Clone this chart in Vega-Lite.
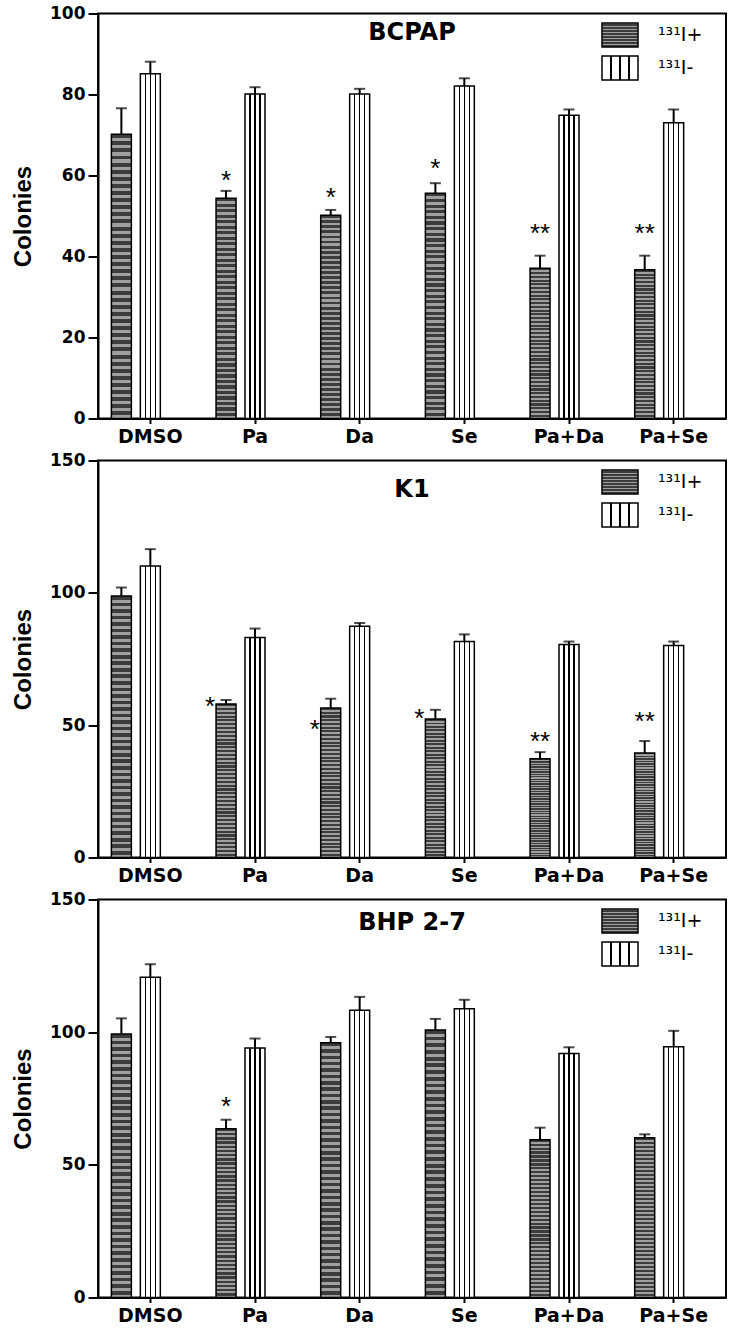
{
  "$schema": "https://vega.github.io/schema/vega-lite/v6.json",
  "padding": {"left": 10, "top": 3.5, "right": 5, "bottom": 5},
  "background": "white",
  "bounds": "flush",
  "spacing": 42,
  "params": [
    {"name": "gdark", "value": {"gradient": "linear", "x1": 0, "y1": 0, "x2": 0, "y2": 1, "stops": [
      {"offset": 0, "color": "#3c3c3c"}, {"offset": 0.014, "color": "#3c3c3c"}, {"offset": 0.014, "color": "#a0a0a0"}, {"offset": 0.025, "color": "#a0a0a0"},
      {"offset": 0.025, "color": "#3c3c3c"}, {"offset": 0.039, "color": "#3c3c3c"}, {"offset": 0.039, "color": "#a0a0a0"}, {"offset": 0.05, "color": "#a0a0a0"},
      {"offset": 0.05, "color": "#3c3c3c"}, {"offset": 0.064, "color": "#3c3c3c"}, {"offset": 0.064, "color": "#a0a0a0"}, {"offset": 0.075, "color": "#a0a0a0"},
      {"offset": 0.075, "color": "#3c3c3c"}, {"offset": 0.089, "color": "#3c3c3c"}, {"offset": 0.089, "color": "#a0a0a0"}, {"offset": 0.1, "color": "#a0a0a0"},
      {"offset": 0.1, "color": "#3c3c3c"}, {"offset": 0.114, "color": "#3c3c3c"}, {"offset": 0.114, "color": "#a0a0a0"}, {"offset": 0.125, "color": "#a0a0a0"},
      {"offset": 0.125, "color": "#3c3c3c"}, {"offset": 0.139, "color": "#3c3c3c"}, {"offset": 0.139, "color": "#a0a0a0"}, {"offset": 0.15, "color": "#a0a0a0"},
      {"offset": 0.15, "color": "#3c3c3c"}, {"offset": 0.164, "color": "#3c3c3c"}, {"offset": 0.164, "color": "#a0a0a0"}, {"offset": 0.175, "color": "#a0a0a0"},
      {"offset": 0.175, "color": "#3c3c3c"}, {"offset": 0.189, "color": "#3c3c3c"}, {"offset": 0.189, "color": "#a0a0a0"}, {"offset": 0.2, "color": "#a0a0a0"},
      {"offset": 0.2, "color": "#3c3c3c"}, {"offset": 0.214, "color": "#3c3c3c"}, {"offset": 0.214, "color": "#a0a0a0"}, {"offset": 0.225, "color": "#a0a0a0"},
      {"offset": 0.225, "color": "#3c3c3c"}, {"offset": 0.239, "color": "#3c3c3c"}, {"offset": 0.239, "color": "#a0a0a0"}, {"offset": 0.25, "color": "#a0a0a0"},
      {"offset": 0.25, "color": "#3c3c3c"}, {"offset": 0.264, "color": "#3c3c3c"}, {"offset": 0.264, "color": "#a0a0a0"}, {"offset": 0.275, "color": "#a0a0a0"},
      {"offset": 0.275, "color": "#3c3c3c"}, {"offset": 0.289, "color": "#3c3c3c"}, {"offset": 0.289, "color": "#a0a0a0"}, {"offset": 0.3, "color": "#a0a0a0"},
      {"offset": 0.3, "color": "#3c3c3c"}, {"offset": 0.314, "color": "#3c3c3c"}, {"offset": 0.314, "color": "#a0a0a0"}, {"offset": 0.325, "color": "#a0a0a0"},
      {"offset": 0.325, "color": "#3c3c3c"}, {"offset": 0.339, "color": "#3c3c3c"}, {"offset": 0.339, "color": "#a0a0a0"}, {"offset": 0.35, "color": "#a0a0a0"},
      {"offset": 0.35, "color": "#3c3c3c"}, {"offset": 0.364, "color": "#3c3c3c"}, {"offset": 0.364, "color": "#a0a0a0"}, {"offset": 0.375, "color": "#a0a0a0"},
      {"offset": 0.375, "color": "#3c3c3c"}, {"offset": 0.389, "color": "#3c3c3c"}, {"offset": 0.389, "color": "#a0a0a0"}, {"offset": 0.4, "color": "#a0a0a0"},
      {"offset": 0.4, "color": "#3c3c3c"}, {"offset": 0.414, "color": "#3c3c3c"}, {"offset": 0.414, "color": "#a0a0a0"}, {"offset": 0.425, "color": "#a0a0a0"},
      {"offset": 0.425, "color": "#3c3c3c"}, {"offset": 0.439, "color": "#3c3c3c"}, {"offset": 0.439, "color": "#a0a0a0"}, {"offset": 0.45, "color": "#a0a0a0"},
      {"offset": 0.45, "color": "#3c3c3c"}, {"offset": 0.464, "color": "#3c3c3c"}, {"offset": 0.464, "color": "#a0a0a0"}, {"offset": 0.475, "color": "#a0a0a0"},
      {"offset": 0.475, "color": "#3c3c3c"}, {"offset": 0.489, "color": "#3c3c3c"}, {"offset": 0.489, "color": "#a0a0a0"}, {"offset": 0.5, "color": "#a0a0a0"},
      {"offset": 0.5, "color": "#3c3c3c"}, {"offset": 0.514, "color": "#3c3c3c"}, {"offset": 0.514, "color": "#a0a0a0"}, {"offset": 0.525, "color": "#a0a0a0"},
      {"offset": 0.525, "color": "#3c3c3c"}, {"offset": 0.539, "color": "#3c3c3c"}, {"offset": 0.539, "color": "#a0a0a0"}, {"offset": 0.55, "color": "#a0a0a0"},
      {"offset": 0.55, "color": "#3c3c3c"}, {"offset": 0.564, "color": "#3c3c3c"}, {"offset": 0.564, "color": "#a0a0a0"}, {"offset": 0.575, "color": "#a0a0a0"},
      {"offset": 0.575, "color": "#3c3c3c"}, {"offset": 0.589, "color": "#3c3c3c"}, {"offset": 0.589, "color": "#a0a0a0"}, {"offset": 0.6, "color": "#a0a0a0"},
      {"offset": 0.6, "color": "#3c3c3c"}, {"offset": 0.614, "color": "#3c3c3c"}, {"offset": 0.614, "color": "#a0a0a0"}, {"offset": 0.625, "color": "#a0a0a0"},
      {"offset": 0.625, "color": "#3c3c3c"}, {"offset": 0.639, "color": "#3c3c3c"}, {"offset": 0.639, "color": "#a0a0a0"}, {"offset": 0.65, "color": "#a0a0a0"},
      {"offset": 0.65, "color": "#3c3c3c"}, {"offset": 0.664, "color": "#3c3c3c"}, {"offset": 0.664, "color": "#a0a0a0"}, {"offset": 0.675, "color": "#a0a0a0"},
      {"offset": 0.675, "color": "#3c3c3c"}, {"offset": 0.689, "color": "#3c3c3c"}, {"offset": 0.689, "color": "#a0a0a0"}, {"offset": 0.7, "color": "#a0a0a0"},
      {"offset": 0.7, "color": "#3c3c3c"}, {"offset": 0.714, "color": "#3c3c3c"}, {"offset": 0.714, "color": "#a0a0a0"}, {"offset": 0.725, "color": "#a0a0a0"},
      {"offset": 0.725, "color": "#3c3c3c"}, {"offset": 0.739, "color": "#3c3c3c"}, {"offset": 0.739, "color": "#a0a0a0"}, {"offset": 0.75, "color": "#a0a0a0"},
      {"offset": 0.75, "color": "#3c3c3c"}, {"offset": 0.764, "color": "#3c3c3c"}, {"offset": 0.764, "color": "#a0a0a0"}, {"offset": 0.775, "color": "#a0a0a0"},
      {"offset": 0.775, "color": "#3c3c3c"}, {"offset": 0.789, "color": "#3c3c3c"}, {"offset": 0.789, "color": "#a0a0a0"}, {"offset": 0.8, "color": "#a0a0a0"},
      {"offset": 0.8, "color": "#3c3c3c"}, {"offset": 0.814, "color": "#3c3c3c"}, {"offset": 0.814, "color": "#a0a0a0"}, {"offset": 0.825, "color": "#a0a0a0"},
      {"offset": 0.825, "color": "#3c3c3c"}, {"offset": 0.839, "color": "#3c3c3c"}, {"offset": 0.839, "color": "#a0a0a0"}, {"offset": 0.85, "color": "#a0a0a0"},
      {"offset": 0.85, "color": "#3c3c3c"}, {"offset": 0.864, "color": "#3c3c3c"}, {"offset": 0.864, "color": "#a0a0a0"}, {"offset": 0.875, "color": "#a0a0a0"},
      {"offset": 0.875, "color": "#3c3c3c"}, {"offset": 0.889, "color": "#3c3c3c"}, {"offset": 0.889, "color": "#a0a0a0"}, {"offset": 0.9, "color": "#a0a0a0"},
      {"offset": 0.9, "color": "#3c3c3c"}, {"offset": 0.914, "color": "#3c3c3c"}, {"offset": 0.914, "color": "#a0a0a0"}, {"offset": 0.925, "color": "#a0a0a0"},
      {"offset": 0.925, "color": "#3c3c3c"}, {"offset": 0.939, "color": "#3c3c3c"}, {"offset": 0.939, "color": "#a0a0a0"}, {"offset": 0.95, "color": "#a0a0a0"},
      {"offset": 0.95, "color": "#3c3c3c"}, {"offset": 0.964, "color": "#3c3c3c"}, {"offset": 0.964, "color": "#a0a0a0"}, {"offset": 0.975, "color": "#a0a0a0"},
      {"offset": 0.975, "color": "#3c3c3c"}, {"offset": 0.989, "color": "#3c3c3c"}, {"offset": 0.989, "color": "#a0a0a0"}, {"offset": 1, "color": "#a0a0a0"}
    ]}},
    {"name": "glight", "value": {"gradient": "linear", "x1": 0, "y1": 0, "x2": 1, "y2": 0, "stops": [
      {"offset": 0, "color": "#ffffff"}, {"offset": 0.215, "color": "#ffffff"}, {"offset": 0.215, "color": "#000000"}, {"offset": 0.285, "color": "#000000"},
      {"offset": 0.285, "color": "#ffffff"}, {"offset": 0.465, "color": "#ffffff"}, {"offset": 0.465, "color": "#000000"}, {"offset": 0.535, "color": "#000000"},
      {"offset": 0.535, "color": "#ffffff"}, {"offset": 0.715, "color": "#ffffff"}, {"offset": 0.715, "color": "#000000"}, {"offset": 0.785, "color": "#000000"},
      {"offset": 0.785, "color": "#ffffff"}, {"offset": 1, "color": "#ffffff"}
    ]}}
  ],
  "datasets": {
    "bars": [
      {"panel": "BCPAP", "treatment": "DMSO", "group": "¹³¹I+", "value": 70.2, "hi": 76.6},
      {"panel": "BCPAP", "treatment": "DMSO", "group": "¹³¹I-", "value": 85.1, "hi": 88.1},
      {"panel": "BCPAP", "treatment": "Pa", "group": "¹³¹I+", "value": 54.4, "hi": 56.2},
      {"panel": "BCPAP", "treatment": "Pa", "group": "¹³¹I-", "value": 80.1, "hi": 81.8},
      {"panel": "BCPAP", "treatment": "Da", "group": "¹³¹I+", "value": 50.2, "hi": 51.5},
      {"panel": "BCPAP", "treatment": "Da", "group": "¹³¹I-", "value": 80.1, "hi": 81.4},
      {"panel": "BCPAP", "treatment": "Se", "group": "¹³¹I+", "value": 55.6, "hi": 58.1},
      {"panel": "BCPAP", "treatment": "Se", "group": "¹³¹I-", "value": 82.1, "hi": 84.0},
      {"panel": "BCPAP", "treatment": "Pa+Da", "group": "¹³¹I+", "value": 37.1, "hi": 40.2},
      {"panel": "BCPAP", "treatment": "Pa+Da", "group": "¹³¹I-", "value": 74.9, "hi": 76.3},
      {"panel": "BCPAP", "treatment": "Pa+Se", "group": "¹³¹I+", "value": 36.7, "hi": 40.2},
      {"panel": "BCPAP", "treatment": "Pa+Se", "group": "¹³¹I-", "value": 73.0, "hi": 76.3},
      {"panel": "K1", "treatment": "DMSO", "group": "¹³¹I+", "value": 98.8, "hi": 102.0},
      {"panel": "K1", "treatment": "DMSO", "group": "¹³¹I-", "value": 110.1, "hi": 116.5},
      {"panel": "K1", "treatment": "Pa", "group": "¹³¹I+", "value": 58.0, "hi": 59.5},
      {"panel": "K1", "treatment": "Pa", "group": "¹³¹I-", "value": 83.1, "hi": 86.5},
      {"panel": "K1", "treatment": "Da", "group": "¹³¹I+", "value": 56.5, "hi": 60.0},
      {"panel": "K1", "treatment": "Da", "group": "¹³¹I-", "value": 87.4, "hi": 88.6},
      {"panel": "K1", "treatment": "Se", "group": "¹³¹I+", "value": 52.3, "hi": 55.8},
      {"panel": "K1", "treatment": "Se", "group": "¹³¹I-", "value": 81.6, "hi": 84.3},
      {"panel": "K1", "treatment": "Pa+Da", "group": "¹³¹I+", "value": 37.3, "hi": 39.8},
      {"panel": "K1", "treatment": "Pa+Da", "group": "¹³¹I-", "value": 80.5, "hi": 81.6},
      {"panel": "K1", "treatment": "Pa+Se", "group": "¹³¹I+", "value": 39.5, "hi": 44.0},
      {"panel": "K1", "treatment": "Pa+Se", "group": "¹³¹I-", "value": 80.1, "hi": 81.6},
      {"panel": "BHP 2-7", "treatment": "DMSO", "group": "¹³¹I+", "value": 99.3, "hi": 105.2},
      {"panel": "BHP 2-7", "treatment": "DMSO", "group": "¹³¹I-", "value": 120.7, "hi": 125.6},
      {"panel": "BHP 2-7", "treatment": "Pa", "group": "¹³¹I+", "value": 63.6, "hi": 67.0},
      {"panel": "BHP 2-7", "treatment": "Pa", "group": "¹³¹I-", "value": 94.0, "hi": 97.6},
      {"panel": "BHP 2-7", "treatment": "Da", "group": "¹³¹I+", "value": 96.0, "hi": 98.2},
      {"panel": "BHP 2-7", "treatment": "Da", "group": "¹³¹I-", "value": 108.3, "hi": 113.3},
      {"panel": "BHP 2-7", "treatment": "Se", "group": "¹³¹I+", "value": 100.8, "hi": 105.0},
      {"panel": "BHP 2-7", "treatment": "Se", "group": "¹³¹I-", "value": 108.8, "hi": 112.2},
      {"panel": "BHP 2-7", "treatment": "Pa+Da", "group": "¹³¹I+", "value": 59.5, "hi": 64.0},
      {"panel": "BHP 2-7", "treatment": "Pa+Da", "group": "¹³¹I-", "value": 92.0, "hi": 94.3},
      {"panel": "BHP 2-7", "treatment": "Pa+Se", "group": "¹³¹I+", "value": 60.2, "hi": 61.5},
      {"panel": "BHP 2-7", "treatment": "Pa+Se", "group": "¹³¹I-", "value": 94.5, "hi": 100.5}
    ],
    "stars": [
      {"panel": "BCPAP", "treatment": "Pa", "group": "¹³¹I+", "label": "*", "y": 60.1},
      {"panel": "BCPAP", "treatment": "Da", "group": "¹³¹I+", "label": "*", "y": 56.0},
      {"panel": "BCPAP", "treatment": "Se", "group": "¹³¹I+", "label": "*", "y": 63.2},
      {"panel": "BCPAP", "treatment": "Pa+Da", "group": "¹³¹I+", "label": "**", "y": 47.1},
      {"panel": "BCPAP", "treatment": "Pa+Se", "group": "¹³¹I+", "label": "**", "y": 47.1},
      {"panel": "K1", "treatment": "Pa", "group": "¹³¹I+", "label": "*", "y": 59.0},
      {"panel": "K1", "treatment": "Da", "group": "¹³¹I+", "label": "*", "y": 50.5},
      {"panel": "K1", "treatment": "Se", "group": "¹³¹I+", "label": "*", "y": 54.5},
      {"panel": "K1", "treatment": "Pa+Da", "group": "¹³¹I+", "label": "**", "y": 46.0},
      {"panel": "K1", "treatment": "Pa+Se", "group": "¹³¹I+", "label": "**", "y": 53.6},
      {"panel": "BHP 2-7", "treatment": "Pa", "group": "¹³¹I+", "label": "*", "y": 74.0}
    ]
  },
  "resolve": {
    "scale": {"x": "independent", "y": "independent", "xOffset": "independent", "fill": "independent"},
    "legend": {"fill": "independent"}
  },
  "vconcat": [
    {
      "width": 628, "height": 405,
      "title": {"text": "BCPAP", "offset": -40},
      "encoding": {
        "x": {"field": "treatment", "type": "nominal", "scale": {"domain": ["DMSO", "Pa", "Da", "Se", "Pa+Da", "Pa+Se"], "paddingInner": 0.17, "paddingOuter": 0.085}, "axis": {"title": null}},
        "xOffset": {"field": "group", "type": "nominal", "scale": {"domain": ["¹³¹I+", "¹³¹I-", "pad"], "paddingInner": 0.31, "paddingOuter": 0.155}}
      },
      "layer": [
        {
          "data": {"name": "bars"}, "transform": [{"filter": "datum.panel === 'BCPAP'"}],
          "mark": {"type": "rule", "strokeWidth": 2, "color": "black"},
          "encoding": {"y": {"field": "value", "type": "quantitative", "title": "Colonies", "scale": {"domain": [0, 100], "nice": false}, "axis": {"values": [0, 20, 40, 60, 80, 100]}}, "y2": {"field": "hi"}}
        },
        {
          "data": {"name": "bars"}, "transform": [{"filter": "datum.panel === 'BCPAP'"}],
          "mark": {"type": "bar", "stroke": "black", "strokeWidth": 1.5},
          "encoding": {"y": {"field": "value", "type": "quantitative", "title": "Colonies"}, "fill": {"field": "group", "type": "nominal", "scale": {"domain": ["¹³¹I+", "¹³¹I-"], "range": [{"expr": "gdark"}, {"expr": "glight"}]}}}
        },
        {
          "data": {"name": "bars"}, "transform": [{"filter": "datum.panel === 'BCPAP'"}],
          "mark": {"type": "tick", "thickness": 2, "size": 11, "color": "black"},
          "encoding": {"y": {"field": "hi", "type": "quantitative", "title": "Colonies"}}
        },
        {
          "data": {"name": "stars"}, "transform": [{"filter": "datum.panel === 'BCPAP'"}],
          "mark": {"type": "text", "font": "Liberation Sans", "fontSize": 26, "baseline": "middle", "dy": 6, "color": "black"},
          "encoding": {"y": {"field": "y", "type": "quantitative", "title": "Colonies"}, "text": {"field": "label"}}
        }
      ]
    },
    {
      "width": 628, "height": 397,
      "title": {"text": "K1", "offset": -50},
      "encoding": {
        "x": {"field": "treatment", "type": "nominal", "scale": {"domain": ["DMSO", "Pa", "Da", "Se", "Pa+Da", "Pa+Se"], "paddingInner": 0.17, "paddingOuter": 0.085}, "axis": {"title": null}},
        "xOffset": {"field": "group", "type": "nominal", "scale": {"domain": ["¹³¹I+", "¹³¹I-", "pad"], "paddingInner": 0.31, "paddingOuter": 0.155}}
      },
      "layer": [
        {
          "data": {"name": "bars"}, "transform": [{"filter": "datum.panel === 'K1'"}],
          "mark": {"type": "rule", "strokeWidth": 2, "color": "black"},
          "encoding": {"y": {"field": "value", "type": "quantitative", "title": "Colonies", "scale": {"domain": [0, 150], "nice": false}, "axis": {"values": [0, 50, 100, 150]}}, "y2": {"field": "hi"}}
        },
        {
          "data": {"name": "bars"}, "transform": [{"filter": "datum.panel === 'K1'"}],
          "mark": {"type": "bar", "stroke": "black", "strokeWidth": 1.5},
          "encoding": {"y": {"field": "value", "type": "quantitative", "title": "Colonies"}, "fill": {"field": "group", "type": "nominal", "scale": {"domain": ["¹³¹I+", "¹³¹I-"], "range": [{"expr": "gdark"}, {"expr": "glight"}]}}}
        },
        {
          "data": {"name": "bars"}, "transform": [{"filter": "datum.panel === 'K1'"}],
          "mark": {"type": "tick", "thickness": 2, "size": 11, "color": "black"},
          "encoding": {"y": {"field": "hi", "type": "quantitative", "title": "Colonies"}}
        },
        {
          "data": {"name": "stars"}, "transform": [{"filter": "datum.panel === 'K1' && datum.label === '*'"}],
          "mark": {"type": "text", "font": "Liberation Sans", "fontSize": 26, "baseline": "middle", "dy": 6, "dx": -16, "color": "black"},
          "encoding": {"y": {"field": "y", "type": "quantitative", "title": "Colonies"}, "text": {"field": "label"}}
        },
        {
          "data": {"name": "stars"}, "transform": [{"filter": "datum.panel === 'K1' && datum.label === '**'"}],
          "mark": {"type": "text", "font": "Liberation Sans", "fontSize": 26, "baseline": "middle", "dy": 6, "color": "black"},
          "encoding": {"y": {"field": "y", "type": "quantitative", "title": "Colonies"}, "text": {"field": "label"}}
        }
      ]
    },
    {
      "width": 628, "height": 398,
      "title": {"text": "BHP 2-7", "offset": -44},
      "encoding": {
        "x": {"field": "treatment", "type": "nominal", "scale": {"domain": ["DMSO", "Pa", "Da", "Se", "Pa+Da", "Pa+Se"], "paddingInner": 0.17, "paddingOuter": 0.085}, "axis": {"title": null}},
        "xOffset": {"field": "group", "type": "nominal", "scale": {"domain": ["¹³¹I+", "¹³¹I-", "pad"], "paddingInner": 0.31, "paddingOuter": 0.155}}
      },
      "layer": [
        {
          "data": {"name": "bars"}, "transform": [{"filter": "datum.panel === 'BHP 2-7'"}],
          "mark": {"type": "rule", "strokeWidth": 2, "color": "black"},
          "encoding": {"y": {"field": "value", "type": "quantitative", "title": "Colonies", "scale": {"domain": [0, 150], "nice": false}, "axis": {"values": [0, 50, 100, 150]}}, "y2": {"field": "hi"}}
        },
        {
          "data": {"name": "bars"}, "transform": [{"filter": "datum.panel === 'BHP 2-7'"}],
          "mark": {"type": "bar", "stroke": "black", "strokeWidth": 1.5},
          "encoding": {"y": {"field": "value", "type": "quantitative", "title": "Colonies"}, "fill": {"field": "group", "type": "nominal", "scale": {"domain": ["¹³¹I+", "¹³¹I-"], "range": [{"expr": "gdark"}, {"expr": "glight"}]}}}
        },
        {
          "data": {"name": "bars"}, "transform": [{"filter": "datum.panel === 'BHP 2-7'"}],
          "mark": {"type": "tick", "thickness": 2, "size": 11, "color": "black"},
          "encoding": {"y": {"field": "hi", "type": "quantitative", "title": "Colonies"}}
        },
        {
          "data": {"name": "stars"}, "transform": [{"filter": "datum.panel === 'BHP 2-7'"}],
          "mark": {"type": "text", "font": "Liberation Sans", "fontSize": 26, "baseline": "middle", "dy": 6, "color": "black"},
          "encoding": {"y": {"field": "y", "type": "quantitative", "title": "Colonies"}, "text": {"field": "label"}}
        }
      ]
    }
  ],
  "config": {
    "font": "DejaVu Sans",
    "view": {"stroke": "black", "strokeWidth": 2},
    "axis": {
      "domainColor": "black", "domainWidth": 2, "tickColor": "black", "tickWidth": 2,
      "labelFont": "DejaVu Sans", "labelFontWeight": "bold", "labelColor": "black",
      "titleFont": "Liberation Sans", "titleFontWeight": "bold", "titleColor": "black",
      "grid": false
    },
    "axisY": {"tickSize": 10, "labelFontSize": 17, "labelPadding": 3, "titleFontSize": 24, "titlePadding": 14},
    "axisX": {"tickSize": 5, "labelFontSize": 19, "labelAngle": 0, "labelPadding": 4},
    "legend": {
      "title": null, "orient": "none", "legendX": 509, "legendY": 8.5, "padding": 0,
      "symbolType": "M-1.5,-1H1.5V1H-1.5Z", "symbolSize": 576,
      "symbolStrokeColor": "black", "symbolStrokeWidth": 1.5,
      "labelFont": "DejaVu Sans", "labelFontSize": 19, "labelColor": "black",
      "labelOffset": 25, "rowPadding": 3
    },
    "title": {"font": "DejaVu Sans", "fontSize": 24, "fontWeight": "bold", "color": "black", "anchor": "middle", "baseline": "top"}
  }
}
